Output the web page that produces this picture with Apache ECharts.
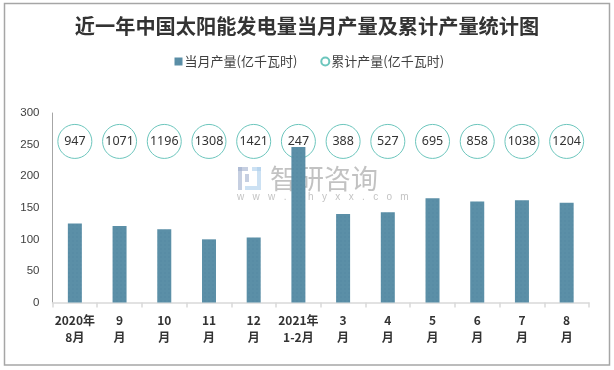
<!DOCTYPE html>
<html><head><meta charset="utf-8">
<style>html,body{margin:0;padding:0;background:#fff}#c{width:614px;height:370px}</style>
<script src="https://cdn.jsdelivr.net/npm/echarts@6/dist/echarts.min.js"></script>
</head><body><div id="c"></div>
<script>
const categories = ['2020年\n8月','9\n月','10\n月','11\n月','12\n月','2021年\n1-2月','3\n月','4\n月','5\n月','6\n月','7\n月','8\n月'];
const monthly = [125,121,116,100,103,246,140,143,165,160,162,158];
const cumulative = [947,1071,1196,1308,1421,247,388,527,695,858,1038,1204];
const circleLevel = [255,255,255,255,255,255,255,255,255,255,255,255];
const yTicks = [0,50,100,150,200,250,300];
const font = '"Noto Sans CJK SC","Noto Sans",sans-serif';
const chart = echarts.init(document.getElementById('c'), null, {renderer:'canvas'});
const wm = 'rgba(120,120,120,0.45)';
chart.setOption({
  animation:false,
  backgroundColor:'#fff',
  title:{text:'近一年中国太阳能发电量当月产量及累计产量统计图',left:'center',top:13,padding:0,
    textStyle:{fontFamily:font,fontSize:20.2,fontWeight:'bold',color:'#333',lineHeight:26}},
  legend:{left:169.5,top:50,itemWidth:8,itemHeight:8,itemGap:23,
    textStyle:{fontFamily:font,fontSize:13,color:'#404040',padding:[0,0,0,-3]},
    data:[{name:'当月产量(亿千瓦时)',icon:'rect'},{name:'累计产量(亿千瓦时)',icon:'circle'}]},
  grid:{left:52.5,right:25,top:113,bottom:67.5,containLabel:false},
  xAxis:{type:'category',data:categories,
    axisLine:{lineStyle:{color:'#d9d9d9',width:1.5}},
    axisTick:{show:true,length:5,alignWithLabel:false,lineStyle:{color:'#d9d9d9',width:1.5}},
    axisLabel:{interval:0,margin:9.5,fontFamily:font,fontSize:12,fontWeight:'bold',color:'#333',lineHeight:17}},
  yAxis:{type:'value',min:0,max:300,interval:50,
    axisLine:{show:true,lineStyle:{color:'#a6a6a6',width:1}},
    axisTick:{show:false},splitLine:{show:false},
    axisLabel:{margin:13,fontFamily:'"Liberation Sans",Arial,sans-serif',fontSize:11.5,color:'#404040',
      formatter:v=>yTicks.includes(v)?String(v):''}},
  series:[
    {name:'累计产量(亿千瓦时)',type:'scatter',z:1,symbol:'circle',symbolSize:34,data:circleLevel,
      itemStyle:{color:'#fff',borderColor:'#6cc6bd',borderWidth:1,opacity:1},
      label:{show:true,position:'inside',fontFamily:'"Noto Sans","DejaVu Sans",sans-serif',fontSize:12.5,color:'#333',
        formatter:p=>String(cumulative[p.dataIndex])}},
    {name:'当月产量(亿千瓦时)',type:'bar',z:2,barWidth:14,data:monthly,
      itemStyle:{color:'#5b8fa7',decal:{symbol:'rect',symbolSize:0.5,color:'rgba(40,80,110,0.15)',dashArrayX:[2,2],dashArrayY:[2,2],rotation:0}}}
  ],
  graphic:[
    {type:'rect',z:0,silent:true,shape:{x:4.5,y:3.5,width:605,height:361.5},style:{fill:'none',stroke:'#a6a6a6',lineWidth:1.5}},
    {type:'group',z:50,silent:true,children:[
      {type:'rect',shape:{x:238,y:167,width:10,height:4},style:{fill:'rgba(160,175,205,0.6)'}},
      {type:'rect',shape:{x:238,y:167,width:4,height:23},style:{fill:'rgba(160,175,205,0.6)'}},
      {type:'rect',shape:{x:245,y:174,width:4,height:8},style:{fill:'rgba(160,175,205,0.6)'}},
      {type:'rect',shape:{x:252,y:167,width:9,height:4},style:{fill:'rgba(170,205,235,0.6)'}},
      {type:'rect',shape:{x:257,y:167,width:4,height:23},style:{fill:'rgba(170,205,235,0.6)'}},
      {type:'rect',shape:{x:245,y:186,width:12,height:4},style:{fill:'rgba(170,205,235,0.6)'}},
      {type:'text',style:{x:270,y:165,text:'智研咨询',fontFamily:font,fontSize:27,fill:wm,textAlign:'left',textVerticalAlign:'top'}},
      {type:'text',style:{x:237,y:192,text:'w   w   w   .   c   h   y   x   x   .   c   o   m',fontFamily:'"Liberation Sans",sans-serif',fontSize:10,fill:wm,textAlign:'left',textVerticalAlign:'top'}}
    ]}
  ]
});
</script></body></html>
